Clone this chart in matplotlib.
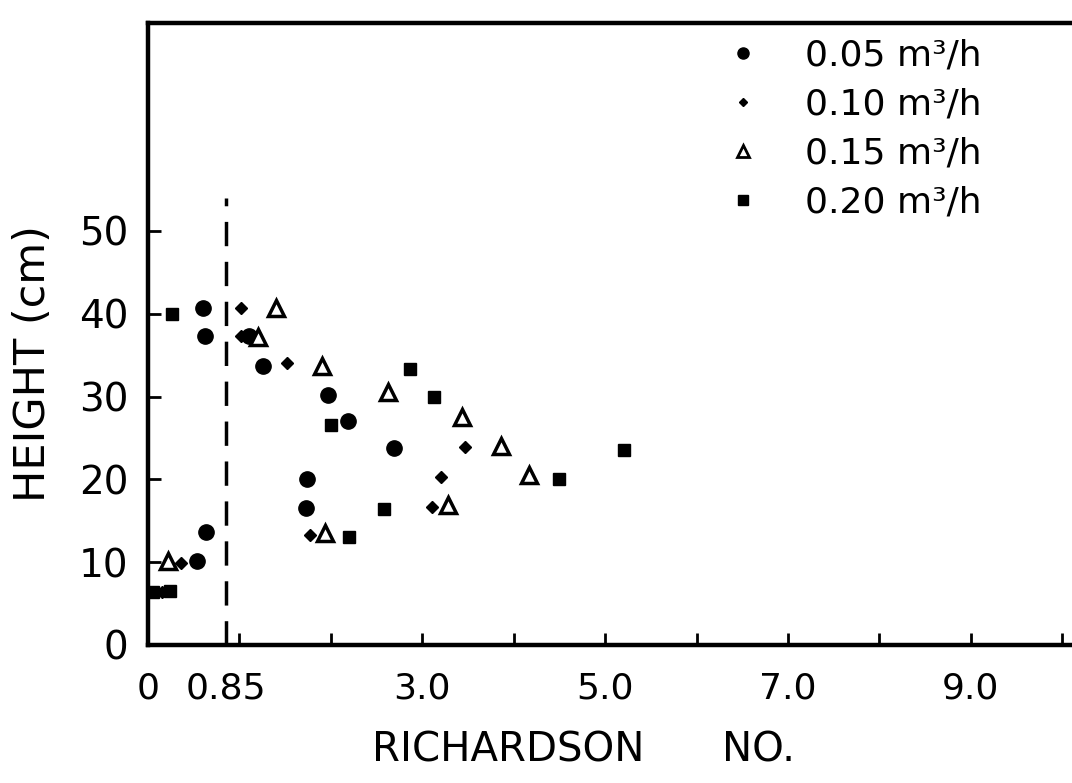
import matplotlib
matplotlib.use("Agg")
import matplotlib.pyplot as plt
from matplotlib.lines import Line2D

# Richardson number vs height, one series per flow rate
ri_005 = [0.60, 0.62, 1.10, 1.26, 1.97, 2.19, 2.69, 1.74, 1.73, 0.63, 0.54]
h_005 = [40.7, 37.3, 37.3, 33.7, 30.2, 27.0, 23.8, 20.1, 16.6, 13.7, 10.1]

ri_010 = [1.02, 1.02, 1.52, 3.47, 3.20, 3.11, 1.77, 0.36, 0.15]
h_010 = [40.7, 37.3, 34.0, 23.9, 20.3, 16.7, 13.3, 9.9, 6.4]

ri_015 = [1.40, 1.20, 1.90, 2.63, 3.43, 3.86, 4.17, 3.28, 1.94, 0.22]
h_015 = [40.7, 37.2, 33.7, 30.6, 27.5, 24.0, 20.5, 16.9, 13.5, 10.1]

ri_020 = [0.26, 2.87, 3.13, 2.00, 5.21, 4.49, 2.58, 2.20, 0.06, 0.24]
h_020 = [40.0, 33.3, 29.9, 26.6, 23.6, 20.0, 16.4, 13.0, 6.4, 6.5]

etiquetas = ["0.05 m³/h", "0.10 m³/h", "0.15 m³/h", "0.20 m³/h"]

ri_critico = 0.85
x_ticks_largos = [1, 2, 3, 4, 5, 6, 7, 8, 9, 10]
x_etiquetas = ["", "", "3.0", "", "5.0", "", "7.0", "", "9.0", ""]
y_ticks = [0, 10, 20, 30, 40, 50]

fig = plt.figure(figsize=(10.72, 7.83), dpi=100)
ax = fig.add_axes([148 / 1072, 1 - 645 / 783, 0.870, 622 / 783])

ax.plot(ri_005, h_005, "o", color="black", markersize=11, linestyle="none")
ax.plot(ri_010, h_010, "D", color="black", markersize=6, linestyle="none")
ax.plot(ri_015, h_015, "^", markerfacecolor="white", markeredgecolor="black",
        markeredgewidth=2.5, markersize=11, linestyle="none")
ax.plot(ri_020, h_020, "s", color="black", markersize=9, linestyle="none")

# linea de Ri critico
ax.plot([ri_critico, ri_critico], [0, 54], color="black", linewidth=2.5,
        linestyle=(0, (7, 4.5)))

ax.set_xlim(0, 10.2)
ax.set_ylim(0, 75.1)

ax.set_xticks(x_ticks_largos)
ax.set_xticklabels(x_etiquetas)
ax.set_xticks([0, ri_critico], ["0", "0.85"], minor=True)
ax.set_yticks(y_ticks)
ax.set_yticklabels([str(v) for v in y_ticks])

ax.tick_params(axis="x", which="major", direction="in", length=9, width=2,
               labelsize=26, pad=19)
ax.tick_params(axis="x", which="minor", direction="in", length=0,
               labelsize=26, pad=19)
ax.tick_params(axis="y", direction="in", length=9, width=2, labelsize=28, pad=14)

for lado in ["left", "bottom", "top"]:
    ax.spines[lado].set_linewidth(3.2)
ax.spines["right"].set_visible(False)

fig.text(0.031, 0.536, "HEIGHT (cm)", rotation=90, fontsize=31,
         ha="center", va="center")
fig.text(508 / 1072, 0.042, "RICHARDSON", fontsize=29, ha="center", va="center")
fig.text(759 / 1072, 0.042, "NO.", fontsize=29, ha="center", va="center")

handles = [
    Line2D([], [], marker="o", color="black", markersize=8, linestyle="none"),
    Line2D([], [], marker="D", color="black", markersize=4.5, linestyle="none"),
    Line2D([], [], marker="^", markerfacecolor="white", markeredgecolor="black",
           markeredgewidth=2, markersize=8, linestyle="none"),
    Line2D([], [], marker="s", color="black", markersize=7, linestyle="none"),
]
ax.legend(handles, etiquetas, loc="upper left", bbox_to_anchor=(0.611, 0.987),
          frameon=False, fontsize=26, handlelength=1.0, handletextpad=1.2,
          labelspacing=0.42, borderaxespad=0, borderpad=0.2)

fig.savefig("out.png", dpi=100)
